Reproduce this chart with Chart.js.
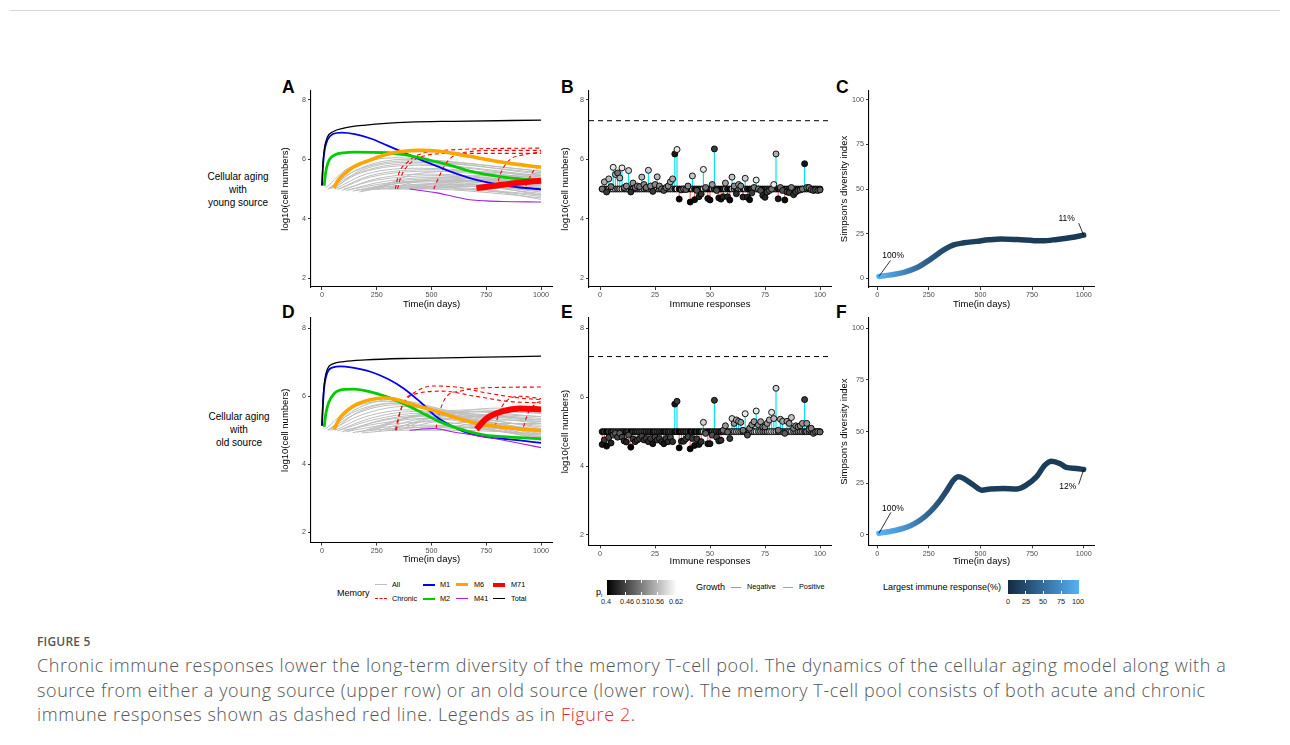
<!DOCTYPE html>
<html lang="en">
<head>
<meta charset="UTF-8" />
<title>Figure 5</title>
<script src="https://cdn.jsdelivr.net/npm/chart.js"></script>
<style>
  body { margin: 0; width: 1290px; height: 745px; background: #fff; position: relative; overflow: hidden; font-family: "Liberation Sans", Arial, sans-serif; }
  .t { position: absolute; line-height: 1; white-space: nowrap; }
  .c { transform: translate(-50%, -50%); text-align: center; }
  .l { transform: translate(0, -50%); }
  .letter { position: absolute; font-weight: bold; font-size: 17.5px; line-height: 1; }
  .key { position: absolute; height: 0; }
  .bar { position: absolute; }
  .cap { position: absolute; left: 37px; white-space: nowrap; font-family: "Open Sans", sans-serif; font-weight: 300; color: #555; font-size: 18px; letter-spacing: 0.6px; line-height: 1; }
</style>
</head>
<body>

<div style="position:absolute;left:10px;right:10px;top:10px;border-top:1px solid #d8d8d8"></div>

<!-- row labels -->
<div class="t c" style="left:238px;top:189px;font-size:10px;line-height:13px">Cellular aging<br>with<br>young source</div>
<div class="t c" style="left:239px;top:429px;font-size:10px;line-height:13px">Cellular aging<br>with<br>old source</div>

<!-- panel letters -->
<div class="letter" style="left:282px;top:79px">A</div>
<div class="letter" style="left:561px;top:79px">B</div>
<div class="letter" style="left:836px;top:79px">C</div>
<div class="letter" style="left:282px;top:304px">D</div>
<div class="letter" style="left:561px;top:304px">E</div>
<div class="letter" style="left:836px;top:304px">F</div>

<!-- Memory legend -->
<div class="t l" style="left:337px;top:593px;font-size:9px">Memory</div>
<div class="key" style="left:375px;top:584px;width:12px;border-top:1.5px solid #bebebe"></div>
<div class="key" style="left:375px;top:598px;width:12px;border-top:1.5px dashed #ff0000"></div>
<div class="key" style="left:423px;top:584px;width:12px;border-top:2px solid #0000ff"></div>
<div class="key" style="left:423px;top:598px;width:12px;border-top:2.5px solid #00cd00"></div>
<div class="key" style="left:456px;top:583px;width:12px;border-top:3px solid #ffa500"></div>
<div class="key" style="left:456px;top:598px;width:12px;border-top:1.5px solid #a020f0"></div>
<div class="key" style="left:493px;top:583px;width:12px;border-top:4px solid #ff0000"></div>
<div class="key" style="left:493px;top:598px;width:12px;border-top:1.5px solid #000"></div>
<div class="t l" style="left:392px;top:585px;font-size:7.3px">All</div>
<div class="t l" style="left:392px;top:599px;font-size:7.3px">Chronic</div>
<div class="t l" style="left:440px;top:585px;font-size:7.3px">M1</div>
<div class="t l" style="left:440px;top:599px;font-size:7.3px">M2</div>
<div class="t l" style="left:474px;top:585px;font-size:7.3px">M6</div>
<div class="t l" style="left:474px;top:599px;font-size:7.3px">M41</div>
<div class="t l" style="left:511px;top:585px;font-size:7.3px">M71</div>
<div class="t l" style="left:511px;top:599px;font-size:7.3px">Total</div>

<!-- p_i legend -->
<div class="t l" style="left:596px;top:593px;font-size:9px">p<sub style="font-size:6px">i</sub></div>
<div class="bar" style="left:607px;top:580px;width:70px;height:15px;background:linear-gradient(to right,#000,#fff)"></div>
<div class="bar" style="left:625px;top:580px;width:1px;height:3px;background:#fff"></div>
<div class="bar" style="left:625px;top:592px;width:1px;height:3px;background:#fff"></div>
<div class="bar" style="left:641px;top:580px;width:1px;height:3px;background:#fff"></div>
<div class="bar" style="left:641px;top:592px;width:1px;height:3px;background:#fff"></div>
<div class="bar" style="left:657px;top:580px;width:1px;height:3px;background:#fff"></div>
<div class="bar" style="left:657px;top:592px;width:1px;height:3px;background:#fff"></div>
<div class="t c" style="left:606px;top:602px;font-size:7.3px;color:#222">0.4</div>
<div class="t c" style="left:627px;top:602px;font-size:7.3px;color:#222">0.46</div>
<div class="t c" style="left:643px;top:602px;font-size:7.3px;color:#222">0.51</div>
<div class="t c" style="left:657px;top:602px;font-size:7.3px;color:#222">0.56</div>
<div class="t c" style="left:676px;top:602px;font-size:7.3px;color:#222">0.62</div>

<!-- Growth legend -->
<div class="t l" style="left:696px;top:587px;font-size:9px">Growth</div>
<div class="key" style="left:731px;top:587px;width:10px;border-top:1px solid #f8766d"></div>
<div class="t l" style="left:747px;top:587px;font-size:7.3px">Negative</div>
<div class="key" style="left:783px;top:587px;width:10px;border-top:1px solid #00e5ee"></div>
<div class="t l" style="left:799px;top:587px;font-size:7.3px">Positive</div>

<!-- Largest immune response legend -->
<div class="t l" style="left:883px;top:587px;font-size:9px">Largest immune response(%)</div>
<div class="bar" style="left:1008px;top:580px;width:71px;height:14px;background:linear-gradient(to right,#132b43,#56b1f7)"></div>
<div class="bar" style="left:1025px;top:580px;width:1px;height:3px;background:#fff"></div>
<div class="bar" style="left:1025px;top:591px;width:1px;height:3px;background:#fff"></div>
<div class="bar" style="left:1043px;top:580px;width:1px;height:3px;background:#fff"></div>
<div class="bar" style="left:1043px;top:591px;width:1px;height:3px;background:#fff"></div>
<div class="bar" style="left:1061px;top:580px;width:1px;height:3px;background:#fff"></div>
<div class="bar" style="left:1061px;top:591px;width:1px;height:3px;background:#fff"></div>
<div class="t c" style="left:1008px;top:602px;font-size:7.3px;color:#222">0</div>
<div class="t c" style="left:1026px;top:602px;font-size:7.3px;color:#222">25</div>
<div class="t c" style="left:1043px;top:602px;font-size:7.3px;color:#222">50</div>
<div class="t c" style="left:1061px;top:602px;font-size:7.3px;color:#222">75</div>
<div class="t c" style="left:1078px;top:602px;font-size:7.3px;color:#222">100</div>

<!-- caption -->
<div class="cap" style="top:636px;font-size:12px;font-weight:600;letter-spacing:0.2px">FIGURE 5</div>
<div class="cap" style="top:656px">Chronic immune responses lower the long-term diversity of the memory T-cell pool. The dynamics of the cellular aging model along with a</div>
<div class="cap" style="top:681px">source from either a young source (upper row) or an old source (lower row). The memory T-cell pool consists of both acute and chronic</div>
<div class="cap" style="top:705px">immune responses shown as dashed red line. Legends as in <span style="color:#e8262d">Figure 2</span>.</div>

<script>
// ---------- panel A : young source, memory dynamics [day, log10 cells] ----------
const totalA = [[0,5.12],[5,5.9],[12,6.4],[25,6.75],[50,6.93],[100,7.05],[200,7.15],[400,7.25],[600,7.28],[1000,7.32]];
const m1A = [[0,5.12],[5,5.8],[12,6.3],[25,6.65],[50,6.85],[90,6.9],[150,6.85],[222,6.7],[297,6.47],[373,6.23],[449,5.99],[524,5.77],[600,5.55],[675,5.37],[750,5.23],[826,5.12],[903,5.05],[1000,4.99]];
const m2A = [[10,5.11],[15,5.45],[22,5.75],[35,6.0],[60,6.15],[100,6.22],[150,6.24],[297,6.22],[373,6.16],[449,6.05],[524,5.91],[600,5.77],[675,5.6],[750,5.49],[826,5.4],[903,5.34],[1000,5.28]];
const m6A = [[55,5.03],[70,5.25],[90,5.43],[146,5.75],[222,5.98],[297,6.17],[373,6.27],[449,6.3],[524,6.28],[600,6.2],[675,6.1],[750,5.99],[826,5.9],[903,5.82],[1000,5.73]];
const m41A = [[400,5.0],[524,4.87],[600,4.75],[675,4.64],[750,4.6],[826,4.58],[1000,4.56]];
const m71A = [[705,5.03],[800,5.12],[900,5.21],[1000,5.28]];
const chronicA = [
  [[335,5.0],[350,5.5],[390,5.9],[440,6.15],[550,6.3],[1000,6.38]],
  [[345,5.0],[360,5.4],[400,5.85],[460,6.1],[600,6.2],[1000,6.2]],
  [[510,5.0],[540,5.5],[575,5.95],[630,6.2],[800,6.3],[1000,6.3]],
  [[795,5.05],[820,5.6],[860,6.0],[920,6.15],[1000,6.25]],
  [[930,5.1],[960,5.55],[1000,5.85]]
];
const allA = [
  [[20,5.05],[120,5.7],[350,6.05],[600,5.9],[1000,5.6]],
  [[25,5.0],[150,5.6],[400,5.95],[1000,5.5]],
  [[30,5.0],[150,5.5],[400,5.85],[1000,5.45]],
  [[35,5.02],[160,5.65],[380,6.0],[1000,5.6]],
  [[40,5.0],[180,5.55],[450,5.8],[1000,5.4]],
  [[55,5.0],[170,5.6],[420,5.9],[1000,5.55]],
  [[60,5.0],[200,5.5],[450,5.7],[1000,5.35]],
  [[70,4.98],[220,5.45],[500,5.65],[1000,5.3]],
  [[80,5.0],[220,5.4],[500,5.6],[1000,5.25]],
  [[90,4.95],[250,5.35],[500,5.5],[1000,5.2]],
  [[100,5.0],[250,5.3],[550,5.45],[1000,5.15]],
  [[110,4.95],[280,5.25],[550,5.4],[1000,5.1]],
  [[120,4.97],[300,5.2],[600,5.3],[1000,5.05]],
  [[140,4.93],[300,5.15],[600,5.25],[1000,5.0]],
  [[150,4.95],[320,5.1],[600,5.2],[1000,4.95]],
  [[170,4.9],[330,5.1],[650,5.15],[1000,4.9]],
  [[180,4.95],[350,5.05],[650,5.1],[1000,4.85]],
  [[200,4.97],[350,5.2],[600,5.3],[1000,5.1]],
  [[210,5.0],[380,5.3],[650,5.35],[1000,5.2]],
  [[230,5.0],[400,5.25],[700,5.3],[1000,5.25]],
  [[250,4.98],[400,5.1],[700,5.1],[1000,4.8]],
  [[260,5.02],[420,5.5],[650,5.6],[1000,5.45]],
  [[280,5.0],[450,5.05],[750,4.95],[1000,4.75]],
  [[300,5.0],[480,5.0],[800,4.85],[1000,4.7]],
  [[320,5.05],[500,5.35],[750,5.45],[1000,5.4]],
  [[350,5.0],[520,5.2],[800,5.25],[1000,5.15]],
  [[380,5.0],[550,5.1],[800,5.05],[1000,4.95]],
  [[400,5.0],[600,5.05],[850,4.9],[1000,4.8]],
  [[420,5.05],[600,5.3],[850,5.45],[1000,5.5]],
  [[450,5.0],[650,5.25],[850,5.35],[1000,5.35]],
  [[500,5.0],[700,5.15],[1000,5.05]],
  [[600,5.0],[800,4.9],[1000,4.65]],
  [[700,5.0],[850,5.1],[1000,5.0]]
];

// ---------- panel D : old source ----------
const totalD = [[0,5.13],[5,5.9],[12,6.45],[25,6.8],[50,6.95],[100,7.02],[200,7.07],[373,7.11],[675,7.14],[1000,7.18]];
const m1D = [[0,5.13],[5,5.8],[12,6.35],[25,6.7],[50,6.85],[85,6.88],[140,6.84],[222,6.72],[297,6.52],[373,6.23],[449,5.83],[524,5.39],[600,5.1],[675,4.9],[750,4.8],[826,4.75],[903,4.7],[1000,4.63]];
const m2D = [[10,5.1],[18,5.5],[30,5.8],[56,6.08],[101,6.2],[146,6.21],[222,6.13],[297,5.98],[373,5.78],[449,5.54],[524,5.29],[600,5.1],[675,4.95],[750,4.85],[826,4.81],[1000,4.75]];
const m6D = [[55,5.02],[70,5.22],[86,5.39],[146,5.72],[222,5.9],[280,5.95],[330,5.92],[373,5.84],[449,5.69],[524,5.56],[600,5.39],[675,5.25],[750,5.15],[826,5.09],[1000,4.99]];
const m41D = [[400,5.0],[509,5.05],[600,4.95],[750,4.8],[900,4.62],[1000,4.49]];
const m71D = [[705,5.03],[750,5.34],[826,5.56],[903,5.64],[1000,5.61]];
const chronicD = [
  [[335,5.0],[350,5.4],[375,5.85],[420,6.1],[500,6.3],[600,6.28],[750,6.1],[900,5.95],[1000,5.9]],
  [[340,5.0],[355,5.5],[385,5.9],[450,6.1],[550,6.15],[700,6.0],[850,5.85],[1000,5.8]],
  [[520,5.05],[540,5.6],[570,6.0],[630,6.15],[750,6.25],[1000,6.27]],
  [[790,5.1],[810,5.55],[840,5.85],[900,6.0],[1000,5.93]],
  [[920,5.1],[940,5.5],[980,5.8],[1000,5.85]]
];
const allD = [
  [[20,5.05],[120,5.6],[300,5.85],[600,5.5],[1000,5.2]],
  [[25,5.0],[150,5.55],[330,5.8],[650,5.4],[1000,5.1]],
  [[30,5.0],[160,5.5],[350,5.75],[650,5.35],[1000,5.0]],
  [[35,5.02],[150,5.6],[320,5.9],[600,5.55],[1000,5.25]],
  [[40,5.0],[180,5.45],[380,5.7],[700,5.3],[1000,4.95]],
  [[50,5.0],[170,5.55],[350,5.8],[650,5.45],[1000,5.05]],
  [[60,5.0],[200,5.4],[400,5.6],[700,5.25],[1000,4.9]],
  [[70,4.98],[220,5.35],[420,5.55],[750,5.2],[1000,4.85]],
  [[80,5.0],[230,5.3],[450,5.5],[750,5.15],[1000,4.8]],
  [[90,4.95],[250,5.25],[450,5.4],[800,5.1],[1000,4.75]],
  [[100,5.0],[260,5.2],[480,5.35],[800,5.05],[1000,4.7]],
  [[110,4.95],[270,5.3],[470,5.45],[1000,5.0]],
  [[120,4.97],[280,5.15],[500,5.25],[1000,4.75]],
  [[140,4.93],[300,5.1],[500,5.15],[1000,4.8]],
  [[160,4.95],[320,5.05],[550,5.1],[1000,4.85]],
  [[180,4.92],[350,5.0],[600,5.0],[1000,4.9]],
  [[200,5.0],[350,5.3],[600,5.5],[1000,5.3]],
  [[220,5.0],[380,5.35],[650,5.55],[1000,5.4]],
  [[240,5.0],[400,5.4],[700,5.6],[1000,5.5]],
  [[260,4.98],[420,5.3],[700,5.45],[1000,5.35]],
  [[290,5.0],[450,5.25],[750,5.4],[1000,5.3]],
  [[300,5.0],[500,5.1],[800,5.05],[1000,4.95]],
  [[320,5.0],[480,5.35],[750,5.55],[1000,5.5]],
  [[350,5.0],[520,5.4],[800,5.65],[1000,5.6]],
  [[380,5.05],[550,5.3],[800,5.45],[1000,5.4]],
  [[420,5.0],[600,5.2],[850,5.3],[1000,5.25]],
  [[460,5.0],[650,5.15],[850,5.2],[1000,5.15]],
  [[520,5.0],[700,5.1],[1000,5.05]],
  [[600,5.0],[800,5.2],[1000,5.2]]
];

// ---------- panels B / E : immune responses 1..100 ----------
const baseSize = 5.0;
const totalB = 7.3;
const tipB = [5.0,5.24,4.9,5.34,5.08,5.73,5.49,5.54,5.37,5.71, 5.05,5.1,5.62,4.9,5.2,5.05,5.1,5.08,5.4,5.15,
  5.05,5.63,5.1,4.92,5.15,5.41,5.1,5.0,4.95,5.05, 5.1,5.24,5.34,6.18,6.33,4.66,4.97,5.0,4.98,5.1,
  4.56,5.44,4.64,4.95,4.74,4.83,5.66,5.05,4.68,4.63, 5.15,6.35,4.95,4.7,4.66,4.74,5.2,4.74,4.63,5.4,
  5.1,4.84,5.15,5.1,4.73,5.36,4.72,4.64,4.87,5.05, 5.3,5.0,4.95,4.78,4.72,4.9,4.95,5.0,5.15,6.18,
  4.67,5.05,4.95,4.63,4.9,4.88,5.05,4.81,4.9,4.95, 4.97,5.0,5.85,5.05,5.05,4.98,4.95,4.97,4.95,4.97];
const pB = [.5,.55,.45,.56,.5,.6,.55,.5,.55,.6, .5,.52,.58,.44,.53,.5,.52,.5,.56,.52,
  .5,.58,.52,.45,.52,.56,.52,.5,.47,.5, .52,.54,.55,.42,.6,.4,.48,.5,.48,.52,
  .4,.57,.41,.47,.43,.44,.6,.5,.42,.41, .53,.45,.47,.42,.41,.43,.54,.43,.41,.57,
  .52,.44,.53,.52,.43,.58,.43,.41,.45,.5, .6,.5,.47,.44,.43,.46,.47,.5,.6,.55,
  .42,.5,.47,.41,.46,.45,.5,.44,.46,.47, .48,.5,.42,.5,.5,.48,.47,.48,.47,.48];

const totalE = 7.18;
const tipE = [4.63,4.76,4.58,4.83,4.67,4.9,4.95,4.84,4.95,4.84, 4.73,4.7,4.9,4.55,4.79,4.71,4.76,4.8,4.86,4.76,
  4.8,4.71,4.8,4.65,4.84,4.76,4.8,4.71,4.65,4.8, 4.71,4.84,4.71,5.8,5.88,4.53,4.72,4.72,4.79,4.85,
  4.5,4.8,4.6,4.79,4.63,4.71,5.27,4.95,4.65,4.65, 4.9,5.91,4.84,4.73,4.75,5.04,5.17,4.99,4.8,5.38,
  5.24,5.34,5.3,5.27,5.04,5.52,4.9,5.1,5.2,5.29, 5.6,5.2,5.29,5.14,5.14,5.24,5.34,5.56,5.38,6.26,
  5.04,5.36,5.3,4.95,5.3,5.24,5.41,5.1,5.17,5.14, 5.17,5.24,5.93,5.24,5.07,5.1,4.95,4.99,5.0,4.99];
const pE = [.42,.45,.41,.46,.43,.47,.48,.46,.48,.46, .44,.43,.47,.4,.45,.44,.45,.45,.46,.45,
  .45,.44,.45,.42,.46,.45,.45,.44,.42,.45, .44,.46,.44,.42,.45,.4,.44,.44,.45,.46,
  .4,.45,.41,.45,.42,.44,.58,.48,.42,.42, .47,.45,.46,.44,.44,.5,.53,.49,.45,.58,
  .53,.55,.54,.53,.5,.6,.47,.51,.52,.53, .6,.52,.54,.51,.51,.53,.55,.6,.56,.58,
  .5,.55,.54,.48,.54,.53,.57,.51,.52,.51, .52,.53,.45,.53,.5,.51,.48,.49,.5,.49];

// ---------- panels C / F : Simpson's diversity ----------
const dayC = [8,64,129,193,257,322,370,420,480,540,600,680,760,800,870,940,1000];
const divC = [0.9,1.8,3.2,5.9,10.5,15.8,18.6,19.8,20.6,21.5,22.0,21.6,21.0,20.9,21.7,22.8,24.1];
const pctC = [100,85,68,50,35,24,18,16,15,14,13,12.5,12,12,11.5,11,11];
const calloutC = ['100%', '11%'];

const dayF = [8,96,161,209,257,305,338,370,394,418,466,506,547,611,675,723,772,812,844,884,916,965,1000];
const divF = [0.8,2.4,4.5,7.2,11.3,16.9,21.7,26.6,28.2,27.4,24.2,21.7,22.2,22.5,22.2,24.2,28.2,33.8,35.7,34.6,32.7,32.2,31.7];
const pctF = [100,85,70,55,40,28,22,18,16,15,14,13.5,13,13,13,13,12.5,12.5,12,12,12,12,12];
const calloutF = ['100%', '12%'];

const FF = '"Liberation Sans", Arial, sans-serif';
const timeTicks = [0, 250, 500, 750, 1000];
const respTicks = [0, 25, 50, 75, 100];
const logTicks = [2, 4, 6, 8];
const divTicks = [0, 25, 50, 75, 100];

function greyOf(p) {
  const g = Math.round(Math.max(0, Math.min(1, (p - 0.4) / 0.22)) * 255);
  return `rgb(${g},${g},${g})`;
}
function blueOf(v) {
  const t = Math.max(0, Math.min(1, v / 100));
  const lo = [19, 43, 67], hi = [86, 177, 247];
  const c = lo.map((a, i) => Math.round(a + (hi[i] - a) * t));
  return `rgb(${c[0]},${c[1]},${c[2]})`;
}

function axis(horizontal, min, max, ticks, title, size, titlePad) {
  return {
    type: 'linear', min, max,
    afterBuildTicks: s => { s.ticks = ticks.map(v => ({ value: v })); },
    afterFit: s => { if (horizontal) s.height = size; else s.width = size; },
    border: { display: true, color: '#000', width: 1.1 },
    grid: { drawOnChartArea: false, drawTicks: true, tickLength: 3, tickWidth: 1, tickColor: '#333' },
    ticks: { color: '#4d4d4d', font: { family: FF, size: 7.2 }, padding: horizontal ? 1 : 2,
             maxRotation: 0, autoSkip: false, callback: v => String(v) },
    title: { display: true, text: title, color: '#000', font: { family: FF, size: 9.5 },
             padding: horizontal ? { top: 0, bottom: titlePad } : { top: titlePad, bottom: 0 } }
  };
}

function makeChart(c, datasets, xs, ys, plugins) {
  const cv = document.createElement('canvas');
  cv.width = c.w; cv.height = c.h;
  cv.style.cssText = `position:absolute;left:${c.left}px;top:${c.top}px;width:${c.w}px;height:${c.h}px`;
  document.body.appendChild(cv);
  datasets.forEach((d, i) => { d.order = -i; });
  return new Chart(cv, {
    type: 'line',
    data: { datasets },
    options: {
      responsive: false, animation: false, events: [],
      layout: { padding: c.pad },
      plugins: { legend: { display: false }, tooltip: { enabled: false } },
      scales: { x: xs, y: ys }
    },
    plugins: plugins || []
  });
}

function lineSet(data, color, width, dash) {
  return { data, borderColor: color, borderWidth: width, borderDash: dash || [],
           pointRadius: 0, cubicInterpolationMode: 'monotone', fill: false };
}

function memoryPanel(c, all, chronic, m1, m2, m6, m41, m71, total) {
  const sets = [];
  all.forEach(d => sets.push(lineSet(d, '#bebebe', 1)));
  chronic.forEach(d => sets.push(lineSet(d, '#ff0000', 1.1, [4, 3])));
  sets.push(lineSet(m1, '#0000ff', 1.8));
  sets.push(lineSet(m2, '#00cd00', 2.8));
  sets.push(lineSet(m6, '#ffa500', 3.6));
  sets.push(lineSet(m41, '#a020f0', 1.1));
  sets.push(lineSet(m71, '#ff0000', 6));
  sets.push(lineSet(total, '#000', 1.3));
  makeChart(c, sets,
    axis(true, -50, 1050, timeTicks, 'Time(in days)', c.xH, c.xPad),
    axis(false, 1.7, 8.3, logTicks, 'log10(cell numbers)', c.yW, c.yPad));
}

function responsePanel(c, tips, ps, total) {
  const up = [], down = [];
  tips.forEach((v, i) => {
    const seg = v >= baseSize ? up : down;
    seg.push({ x: i + 1, y: baseSize }, { x: i + 1, y: v }, { x: i + 1, y: null });
  });
  const cols = ps.map(greyOf);
  const sets = [
    lineSet([{ x: -5, y: total }, { x: 105, y: total }], '#000', 1, [5, 4]),
    { data: down, borderColor: '#f8766d', borderWidth: 1.2, pointRadius: 0, tension: 0, spanGaps: false },
    { data: up, borderColor: '#00e5ee', borderWidth: 1.2, pointRadius: 0, tension: 0, spanGaps: false },
    { data: tips.map((v, i) => ({ x: i + 1, y: baseSize })), showLine: false, pointRadius: 3,
      pointBackgroundColor: cols, pointBorderColor: '#000', pointBorderWidth: 0.9 },
    { data: tips.map((v, i) => ({ x: i + 1, y: v })), showLine: false, pointRadius: 3,
      pointBackgroundColor: cols, pointBorderColor: '#000', pointBorderWidth: 0.9 }
  ];
  makeChart(c, sets,
    axis(true, -5, 105, respTicks, 'Immune responses', c.xH, c.xPad),
    axis(false, 1.7, 8.3, logTicks, 'log10(cell numbers)', c.yW, c.yPad));
}

function calloutPlugin(days, vals, texts, offs) {
  return {
    id: 'callout',
    afterDatasetsDraw(chart) {
      const { ctx, scales: { x, y } } = chart;
      const ends = [0, days.length - 1];
      ctx.save();
      ctx.strokeStyle = '#000'; ctx.fillStyle = '#000'; ctx.lineWidth = 0.8;
      ctx.font = '8.5px ' + FF; ctx.textAlign = 'center'; ctx.textBaseline = 'middle';
      ends.forEach((k, j) => {
        const px = x.getPixelForValue(days[k]), py = y.getPixelForValue(vals[k]);
        const o = offs[j];
        ctx.beginPath(); ctx.moveTo(px, py); ctx.lineTo(px + o[0], py + o[1]); ctx.stroke();
        ctx.fillText(texts[j], px + o[2], py + o[3]);
      });
      ctx.restore();
    }
  };
}

function diversityPanel(c, days, vals, pct, texts, offs) {
  const data = days.map((d, i) => [d, vals[i]]);
  const ds = lineSet(data, '#132b43', 5.5);
  ds.borderCapStyle = 'round';
  ds.borderColor = ctx => {
    const ch = ctx.chart, area = ch.chartArea;
    if (!area) return '#132b43';
    const xs = ch.scales.x;
    const g = ch.ctx.createLinearGradient(area.left, 0, area.right, 0);
    days.forEach((d, i) => {
      const t = (xs.getPixelForValue(d) - area.left) / (area.right - area.left);
      g.addColorStop(Math.max(0, Math.min(1, t)), blueOf(pct[i]));
    });
    return g;
  };
  makeChart(c, [ds],
    axis(true, -40, 1050, timeTicks, 'Time(in days)', c.xH, c.xPad),
    axis(false, -5, 105, divTicks, "Simpson's diversity index", c.yW, c.yPad),
    [calloutPlugin(days, vals, texts, offs)]);
}

memoryPanel({ left: 270, top: 80, w: 290, h: 235, pad: { left: 0, right: 8, top: 11, bottom: 0 }, yW: 41, xH: 28, yPad: 9.3, xPad: 5.3 },
  allA, chronicA, m1A, m2A, m6A, m41A, m71A, totalA);
responsePanel({ left: 555, top: 80, w: 285, h: 235, pad: { left: 0, right: 9, top: 11, bottom: 0 }, yW: 34, xH: 28, yPad: 4.3, xPad: 5.0 },
  tipB, pB, totalB);
diversityPanel({ left: 830, top: 80, w: 275, h: 235, pad: { left: 0, right: 11, top: 11, bottom: 0 }, yW: 39, xH: 28, yPad: 8.3, xPad: 5.0 },
  dayC, divC, pctC, calloutC, [[11.6, -16, 14.3, -21], [-5, -12, -17, -16]]);

memoryPanel({ left: 270, top: 305, w: 290, h: 265, pad: { left: 0, right: 8, top: 13, bottom: 0 }, yW: 41, xH: 27.5, yPad: 9.3, xPad: 5.0 },
  allD, chronicD, m1D, m2D, m6D, m41D, m71D, totalD);
responsePanel({ left: 555, top: 305, w: 285, h: 265, pad: { left: 0, right: 9, top: 13, bottom: 0 }, yW: 34, xH: 24.7, yPad: 4.3, xPad: 2.6 },
  tipE, pE, totalE);
diversityPanel({ left: 830, top: 305, w: 275, h: 265, pad: { left: 0, right: 11, top: 13, bottom: 0 }, yW: 39, xH: 24.7, yPad: 8.3, xPad: 2.6 },
  dayF, divF, pctF, calloutF, [[12, -21, 14, -25], [-5, 15, -16, 17]]);
</script>
</body>
</html>
